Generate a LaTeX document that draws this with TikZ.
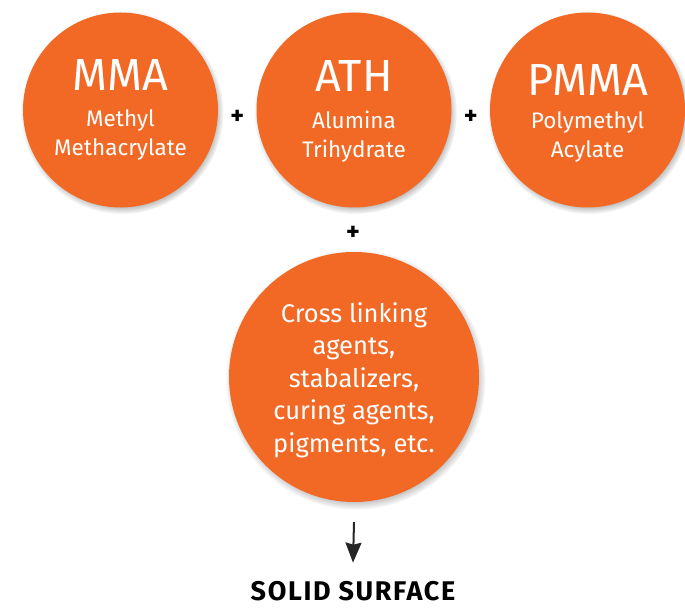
\documentclass[tikz,border=0pt]{standalone}
\usepackage{fontspec}
\setmainfont{Fira Sans}
\newfontfamily\solidfont[LetterSpace=6]{Fira Sans}
\usepackage{tikz}
\usetikzlibrary{arrows.meta,shadows,positioning,calc}
\definecolor{surforange}{RGB}{242,105,37}
\newcommand{\bigsize}{\fontsize{45}{47}\selectfont}
\newcommand{\subsize}{\fontsize{22.5}{29}\selectfont}
\newcommand{\mixsize}{\fontsize{25.5}{32.4}\selectfont}

\begin{document}
\begin{tikzpicture}[x=1pt, y=-1pt]
\tikzstyle{ingr}=[circle, fill=surforange, minimum size=195pt, inner sep=0pt, node distance=233.5pt,
  circular drop shadow={shadow xshift=1.5pt, shadow yshift=-2.5pt, shadow scale=1.04}]
\tikzstyle{bigmix}=[ingr, minimum size=250pt]
\tikzstyle{title}=[white, anchor=base, inner sep=0pt, font=\bigsize]
\tikzstyle{sub}=[white, anchor=base, inner sep=0pt, align=center, font=\subsize]
\tikzstyle{plus}=[inner sep=0pt, font=\fontsize{26}{26}\selectfont\bfseries]
\tikzstyle{connect}=[-{Stealth[length=20pt, width=16pt, inset=2pt]}, line width=2pt, black!85]

\useasboundingbox (0,0) rectangle (685,610);

  % the three ingredients
  \node[ingr] (mma)  at (120.5,110)          {};
  \node[ingr] (ath)  [right of =mma]         {};
  \node[ingr] (pmma) [right of =ath]         {};
  \node[bigmix] (mix) [below of =ath, node distance=267pt] {};

  % texts, placed by the baseline of their last line
  \node[title] (mmatitle)  at ([yshift=20pt]mma)  {MMA};
  \node[sub]   (mmasub)    at ([yshift=-45pt]mma) {Methyl\\Methacrylate};
  \node[title] (athtitle)  at ([yshift=18pt]ath)  {ATH};
  \node[sub]   (athsub)    at ([yshift=-47pt]ath) {Alumina\\Trihydrate};
  \node[title] (pmmatitle) at ([yshift=15pt]pmma) {PMMA};
  \node[sub]   (pmmasub)   at ([yshift=-47pt]pmma) {Polymethyl\\Acylate};

  \node[sub, font=\mixsize] (mixtext) at ([yshift=-75pt]mix)
    {Cross linking\\agents,\\stabalizers,\\curing agents,\\pigments, etc.};

  % plus signs
  \node[plus] (plusone)   at ($(mma)!0.5!(ath)+(0,7)$)   {+};
  \node[plus] (plustwo)   at ($(ath)!0.5!(pmma)+(0,7)$)  {+};
  \node[plus] (plusthree) at ($(ath)!0.5!(mix)+(-1,-10)$) {+};

  % result
  \node[anchor=base, inner sep=0pt, font=\fontsize{27}{27}\solidfont\bfseries] (solid) at (353,600) {SOLID SURFACE};
  \coordinate (arrowtop) at ([yshift=-20pt]mix.south);
  \draw[connect] (arrowtop) -- ([yshift=18pt]solid.north);

\end{tikzpicture}
\end{document}
